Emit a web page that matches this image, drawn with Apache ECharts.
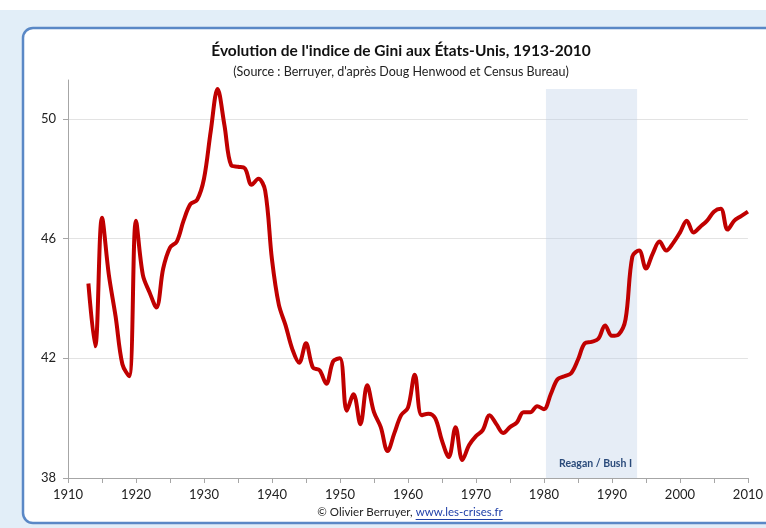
<!DOCTYPE html>
<html lang="fr">
<head>
    <meta charset="UTF-8">
    <title>Gini Etats-Unis</title>
    <style>
        html, body { margin: 0; padding: 0; background: #fff; }
    </style>
</head>
<body>
<div id="main" style="width: 766px; height: 528px;"></div>

<script src="https://cdn.jsdelivr.net/npm/echarts@6/dist/echarts.min.js"></script>

<script>
var years = [
    1913, 1914, 1915, 1916, 1917, 1918, 1919,
    1920, 1921, 1922, 1923, 1924, 1925, 1926, 1927, 1928, 1929,
    1930, 1931, 1932, 1933, 1934, 1935, 1936, 1937, 1938, 1939,
    1940, 1941, 1942, 1943, 1944, 1945, 1946, 1947, 1948, 1949,
    1950, 1951, 1952, 1953, 1954, 1955, 1956, 1957, 1958, 1959,
    1960, 1961, 1962, 1963, 1964, 1965, 1966, 1967, 1968, 1969,
    1970, 1971, 1972, 1973, 1974, 1975, 1976, 1977, 1978, 1979,
    1980, 1981, 1982, 1983, 1984, 1985, 1986, 1987, 1988, 1989,
    1990, 1991, 1992, 1993, 1994, 1995, 1996, 1997, 1998, 1999,
    2000, 2001, 2002, 2003, 2004, 2005, 2006, 2007, 2008, 2009,
    2010
];
var gini = [
    44.5, 42.4, 46.7, 44.8, 43.4, 41.8, 41.4,
    46.6, 44.8, 44.2, 43.7, 45.0, 45.7, 45.9, 46.6, 47.15, 47.3,
    48.0, 49.6, 51.0, 49.8, 48.45, 48.4, 48.35, 47.8, 48.0, 47.6,
    45.3, 43.8, 43.1, 42.3, 41.85, 42.5, 41.7, 41.6, 41.15, 41.9,
    42.0, 40.25, 40.8, 39.8, 41.1, 40.2, 39.7, 38.9, 39.5, 40.1,
    40.35, 41.45, 40.1, 40.15, 40.0, 39.25, 38.7, 39.7, 38.6, 39.1,
    39.4, 39.6, 40.1, 39.8, 39.5, 39.7, 39.85, 40.2, 40.2, 40.4,
    40.3, 40.8, 41.3, 41.4, 41.5, 41.95, 42.5, 42.55, 42.65, 43.1,
    42.75, 42.8, 43.3, 45.4, 45.6, 45.0, 45.5, 45.9, 45.6, 45.85,
    46.2, 46.6, 46.2, 46.4, 46.6, 46.9, 47.0, 46.3, 46.6, 46.75,
    46.9
];
// période Reagan / Bush I (bande grisée) et plafond de la bande
var bandYears = [1980.3, 1993.7];
var bandTop = 51;
var yTicks = [38, 42, 46, 50];

var font = 'Lato';
var points = years.map(function (y, i) { return [y, gini[i]]; });

// largeur du pied de page pour centrer texte + lien souligné
var ctx = document.createElement('canvas').getContext('2d');
ctx.font = '11.5px ' + font;
var footA = '\u00a9 Olivier Berruyer, ';
var footB = 'www.les-crises.fr';
var wA = ctx.measureText(footA).width;
var wB = ctx.measureText(footB).width;
var footX = 410 - (wA + wB) / 2;
var footY = 513;

var myChart = echarts.init(document.getElementById('main'));

myChart.setOption({
    animation: false,
    textStyle: { fontFamily: font },
    title: {
        text: "\u00c9volution de l'indice de Gini aux \u00c9tats-Unis, 1913-2010",
        subtext: "(Source : Berruyer, d'apr\u00e8s Doug Henwood et Census Bureau)",
        left: 396,
        textAlign: 'center',
        top: 38,
        itemGap: 6,
        textStyle: { fontFamily: font, fontSize: 15.5, fontWeight: 'bold', color: '#111' },
        subtextStyle: { fontFamily: font, fontSize: 12.5, color: '#222' }
    },
    graphic: {
        elements: [
            {
                type: 'rect', z: -10, silent: true,
                shape: { x: 0, y: 10, width: 766, height: 518 },
                style: { fill: '#e2eef8' }
            },
            {
                type: 'rect', z: -9, silent: true,
                shape: { x: 23, y: 28, width: 752, height: 495, r: 10 },
                style: { fill: '#fff', stroke: '#5a88c6', lineWidth: 2.5 }
            },
            {
                type: 'text', z: 10, left: footX, top: footY - 7,
                style: { text: footA, fill: '#222', font: '11.5px ' + font }
            },
            {
                type: 'text', z: 10, left: footX + wA, top: footY - 7,
                style: { text: footB, fill: '#1f3fa8', font: '11.5px ' + font }
            },
            {
                type: 'line', z: 10, silent: true,
                shape: { x1: footX + wA, y1: footY + 6.5, x2: footX + wA + wB, y2: footY + 6.5 },
                style: { stroke: '#1f3fa8', lineWidth: 1 }
            }
        ]
    },
    grid: { left: 68, right: 17, top: 80, bottom: 50 },
    xAxis: {
        type: 'value',
        min: 1910,
        max: 2010,
        interval: 10,
        axisLine: { lineStyle: { color: '#a6a6a6' } },
        axisTick: { length: 5, lineStyle: { color: '#a6a6a6' } },
        minorTick: { show: true, splitNumber: 2, length: 5, lineStyle: { color: '#a6a6a6' } },
        axisLabel: {
            color: '#222', fontSize: 13, margin: 10,
            formatter: function (v) { return String(v); }
        },
        splitLine: { show: false }
    },
    yAxis: {
        type: 'value',
        min: yTicks[0],
        max: 51.3,
        interval: 4,
        axisLine: { show: true, lineStyle: { color: '#a6a6a6' } },
        axisTick: { show: true, length: 5, lineStyle: { color: '#a6a6a6' } },
        axisLabel: { color: '#222', fontSize: 13, margin: 12, showMaxLabel: false },
        splitLine: { show: true, showMaxLine: false, lineStyle: { color: '#e3e3e3' } }
    },
    series: [
        {
            type: 'line',
            data: points,
            smooth: 0.35,
            symbol: 'none',
            lineStyle: { color: '#c00000', width: 4 },
            markArea: {
                silent: true,
                itemStyle: { color: 'rgba(184,204,228,0.35)' },
                label: {
                    show: true,
                    position: 'insideBottom',
                    distance: 9,
                    offset: [4, 0],
                    color: '#2a4a7a',
                    fontSize: 10.5,
                    fontWeight: 'bold',
                    fontFamily: font
                },
                data: [[
                    { name: 'Reagan / Bush I', xAxis: bandYears[0], yAxis: yTicks[0] },
                    { xAxis: bandYears[1], yAxis: bandTop }
                ]]
            }
        }
    ]
});
</script>
</body>
</html>
